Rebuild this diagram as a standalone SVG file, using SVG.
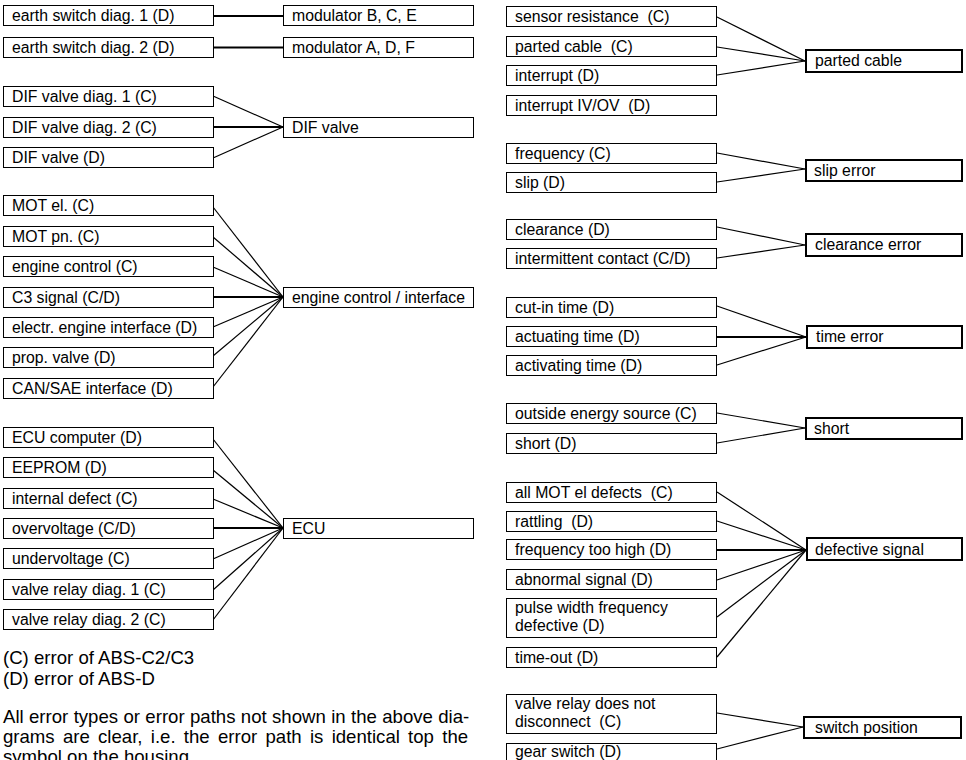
<svg xmlns="http://www.w3.org/2000/svg" width="966" height="760" viewBox="0 0 966 760">
  <style>
    text { font-family: "Liberation Sans", Arial, sans-serif; fill: #000; white-space: pre; }
    .lbl { font-size: 15.8px; }
    .note { font-size: 18.6px; }
    .box { fill: #fff; stroke: #000; stroke-width: 1; }
    .tgt { fill: #fff; stroke: #000; stroke-width: 2; }
    .ln { stroke: #000; stroke-width: 1.2; fill: none; }
    .hz { stroke: #000; stroke-width: 2; fill: none; }
  </style>

  <!-- connectors -->
  <g id="connectors">
    <!-- earth switch -> modulator -->
    <line class="hz" x1="213" y1="16" x2="283" y2="16"/>
    <line class="hz" x1="213" y1="47.5" x2="283" y2="47.5"/>
    <!-- DIF valve -->
    <line class="ln" x1="213" y1="96" x2="283" y2="127"/>
    <line class="hz" x1="213" y1="127" x2="283" y2="127"/>
    <line class="ln" x1="213" y1="158" x2="283" y2="127"/>
    <!-- engine control / interface -->
    <line class="ln" x1="213" y1="207" x2="283" y2="297"/>
    <line class="ln" x1="213" y1="237" x2="283" y2="297"/>
    <line class="ln" x1="213" y1="267" x2="283" y2="297"/>
    <line class="hz" x1="213" y1="297" x2="283" y2="297"/>
    <line class="ln" x1="213" y1="327" x2="283" y2="297"/>
    <line class="ln" x1="213" y1="356" x2="283" y2="297"/>
    <line class="ln" x1="213" y1="387" x2="283" y2="297"/>
    <!-- ECU -->
    <line class="ln" x1="213" y1="439" x2="283" y2="528"/>
    <line class="ln" x1="213" y1="470" x2="283" y2="528"/>
    <line class="ln" x1="213" y1="499" x2="283" y2="528"/>
    <line class="hz" x1="213" y1="528" x2="283" y2="528"/>
    <line class="ln" x1="213" y1="559" x2="283" y2="528"/>
    <line class="ln" x1="213" y1="590" x2="283" y2="528"/>
    <line class="ln" x1="213" y1="620" x2="283" y2="528"/>
    <!-- parted cable -->
    <line class="ln" x1="717" y1="17" x2="805" y2="61"/>
    <line class="ln" x1="717" y1="47" x2="805" y2="61"/>
    <line class="ln" x1="717" y1="75" x2="805" y2="61"/>
    <!-- slip error -->
    <line class="ln" x1="717" y1="153" x2="805" y2="169"/>
    <line class="ln" x1="717" y1="182" x2="805" y2="169"/>
    <!-- clearance error -->
    <line class="ln" x1="717" y1="227" x2="805" y2="245"/>
    <line class="ln" x1="717" y1="258" x2="805" y2="245"/>
    <!-- time error -->
    <line class="ln" x1="717" y1="306" x2="806" y2="337"/>
    <line class="hz" x1="717" y1="337" x2="806" y2="337"/>
    <line class="ln" x1="717" y1="365" x2="806" y2="337"/>
    <!-- short -->
    <line class="ln" x1="717" y1="413" x2="805" y2="428"/>
    <line class="ln" x1="717" y1="443" x2="805" y2="428"/>
    <!-- defective signal -->
    <line class="ln" x1="717" y1="492" x2="806" y2="550"/>
    <line class="ln" x1="717" y1="521" x2="806" y2="550"/>
    <line class="hz" x1="717" y1="550" x2="806" y2="550"/>
    <line class="ln" x1="717" y1="580" x2="806" y2="550"/>
    <line class="ln" x1="717" y1="617" x2="806" y2="550"/>
    <line class="ln" x1="717" y1="657" x2="806" y2="550"/>
    <!-- switch position -->
    <line class="ln" x1="717" y1="713" x2="803" y2="727"/>
    <line class="ln" x1="717" y1="749" x2="803" y2="727"/>
  </g>

  <!-- left column: sources -->
  <g id="earth-switch-1"><rect class="box" x="3.5" y="5.5" width="210" height="20"/><text class="lbl" x="12" y="21">earth switch diag. 1 (D)</text></g>
  <g id="earth-switch-2"><rect class="box" x="3.5" y="37.5" width="210" height="20"/><text class="lbl" x="12" y="53">earth switch diag. 2 (D)</text></g>
  <g id="dif-diag-1"><rect class="box" x="3.5" y="86.5" width="210" height="20"/><text class="lbl" x="12" y="102">DIF valve diag. 1 (C)</text></g>
  <g id="dif-diag-2"><rect class="box" x="3.5" y="117.5" width="210" height="20"/><text class="lbl" x="12" y="133">DIF valve diag. 2 (C)</text></g>
  <g id="dif-d"><rect class="box" x="3.5" y="147.5" width="210" height="20"/><text class="lbl" x="12" y="163">DIF valve (D)</text></g>

  <g id="mot-el"><rect class="box" x="3.5" y="195.5" width="210" height="20"/><text class="lbl" x="12" y="211">MOT el. (C)</text></g>
  <g id="mot-pn"><rect class="box" x="3.5" y="226.5" width="210" height="20"/><text class="lbl" x="12" y="242">MOT pn. (C)</text></g>
  <g id="engine-control-c"><rect class="box" x="3.5" y="256.5" width="210" height="20"/><text class="lbl" x="12" y="272">engine control (C)</text></g>
  <g id="c3-signal"><rect class="box" x="3.5" y="287.5" width="210" height="20"/><text class="lbl" x="12" y="303">C3 signal (C/D)</text></g>
  <g id="electr-engine"><rect class="box" x="3.5" y="317.5" width="210" height="20"/><text class="lbl" x="12" y="333">electr. engine interface (D)</text></g>
  <g id="prop-valve"><rect class="box" x="3.5" y="347.5" width="210" height="20"/><text class="lbl" x="12" y="363">prop. valve (D)</text></g>
  <g id="can-sae"><rect class="box" x="3.5" y="378.5" width="210" height="20"/><text class="lbl" x="12" y="394">CAN/SAE interface (D)</text></g>

  <g id="ecu-computer"><rect class="box" x="3.5" y="427.5" width="210" height="20"/><text class="lbl" x="12" y="443">ECU computer (D)</text></g>
  <g id="eeprom"><rect class="box" x="3.5" y="457.5" width="210" height="20"/><text class="lbl" x="12" y="473">EEPROM (D)</text></g>
  <g id="internal-defect"><rect class="box" x="3.5" y="488.5" width="210" height="20"/><text class="lbl" x="12" y="504">internal defect (C)</text></g>
  <g id="overvoltage"><rect class="box" x="3.5" y="518.5" width="210" height="20"/><text class="lbl" x="12" y="534">overvoltage (C/D)</text></g>
  <g id="undervoltage"><rect class="box" x="3.5" y="548.5" width="210" height="20"/><text class="lbl" x="12" y="564">undervoltage (C)</text></g>
  <g id="valve-relay-1"><rect class="box" x="3.5" y="579.5" width="210" height="20"/><text class="lbl" x="12" y="595">valve relay diag. 1 (C)</text></g>
  <g id="valve-relay-2"><rect class="box" x="3.5" y="609.5" width="210" height="20"/><text class="lbl" x="12" y="625">valve relay diag. 2 (C)</text></g>

  <!-- left column: targets -->
  <g id="modulator-bce"><rect class="box" x="283.5" y="5.5" width="190" height="20"/><text class="lbl" x="292" y="21">modulator B, C, E</text></g>
  <g id="modulator-adf"><rect class="box" x="283.5" y="37.5" width="190" height="20"/><text class="lbl" x="292" y="53">modulator A, D, F</text></g>
  <g id="dif-valve"><rect class="box" x="283.5" y="117.5" width="190" height="20"/><text class="lbl" x="292" y="133">DIF valve</text></g>
  <g id="engine-interface"><rect class="box" x="283.5" y="287.5" width="190" height="20"/><text class="lbl" x="292" y="303">engine control / interface</text></g>
  <g id="ecu"><rect class="box" x="283.5" y="518.5" width="190" height="20"/><text class="lbl" x="292" y="534">ECU</text></g>

  <!-- right column: sources -->
  <g id="sensor-resistance"><rect class="box" x="506.5" y="6.5" width="210" height="20"/><text class="lbl" x="515" y="22" xml:space="preserve">sensor resistance  (C)</text></g>
  <g id="parted-cable-c"><rect class="box" x="506.5" y="36.5" width="210" height="20"/><text class="lbl" x="515" y="52" xml:space="preserve">parted cable  (C)</text></g>
  <g id="interrupt"><rect class="box" x="506.5" y="65.5" width="210" height="20"/><text class="lbl" x="515" y="81">interrupt (D)</text></g>
  <g id="interrupt-ivov"><rect class="box" x="506.5" y="95.5" width="210" height="20"/><text class="lbl" x="515" y="111" xml:space="preserve">interrupt IV/OV  (D)</text></g>

  <g id="frequency"><rect class="box" x="506.5" y="143.5" width="210" height="20"/><text class="lbl" x="515" y="159">frequency (C)</text></g>
  <g id="slip"><rect class="box" x="506.5" y="172.5" width="210" height="20"/><text class="lbl" x="515" y="188">slip (D)</text></g>

  <g id="clearance"><rect class="box" x="506.5" y="219.5" width="210" height="20"/><text class="lbl" x="515" y="235">clearance (D)</text></g>
  <g id="intermittent"><rect class="box" x="506.5" y="248.5" width="210" height="20"/><text class="lbl" x="515" y="264">intermittent contact (C/D)</text></g>

  <g id="cut-in"><rect class="box" x="506.5" y="297.5" width="210" height="20"/><text class="lbl" x="515" y="313">cut-in time (D)</text></g>
  <g id="actuating"><rect class="box" x="506.5" y="326.5" width="210" height="20"/><text class="lbl" x="515" y="342">actuating time (D)</text></g>
  <g id="activating"><rect class="box" x="506.5" y="355.5" width="210" height="20"/><text class="lbl" x="515" y="371">activating time (D)</text></g>

  <g id="outside-energy"><rect class="box" x="506.5" y="403.5" width="210" height="20"/><text class="lbl" x="515" y="419">outside energy source (C)</text></g>
  <g id="short-d"><rect class="box" x="506.5" y="433.5" width="210" height="20"/><text class="lbl" x="515" y="449">short (D)</text></g>

  <g id="mot-el-defects"><rect class="box" x="506.5" y="482.5" width="210" height="20"/><text class="lbl" x="515" y="498" xml:space="preserve">all MOT el defects  (C)</text></g>
  <g id="rattling"><rect class="box" x="506.5" y="511.5" width="210" height="20"/><text class="lbl" x="515" y="527" xml:space="preserve">rattling  (D)</text></g>
  <g id="freq-high"><rect class="box" x="506.5" y="539.5" width="210" height="20"/><text class="lbl" x="515" y="555">frequency too high (D)</text></g>
  <g id="abnormal"><rect class="box" x="506.5" y="569.5" width="210" height="20"/><text class="lbl" x="515" y="585">abnormal signal (D)</text></g>
  <g id="pulse-width"><rect class="box" x="506.5" y="598.5" width="210" height="39"/><text class="lbl" x="515" y="613">pulse width frequency</text><text class="lbl" x="515" y="631">defective (D)</text></g>
  <g id="time-out"><rect class="box" x="506.5" y="647.5" width="210" height="20"/><text class="lbl" x="515" y="663">time-out (D)</text></g>

  <g id="relay-disconnect"><rect class="box" x="506.5" y="694.5" width="210" height="39"/><text class="lbl" x="515" y="709">valve relay does not</text><text class="lbl" x="515" y="727" xml:space="preserve">disconnect  (C)</text></g>
  <g id="gear-switch"><rect class="box" x="506.5" y="743.5" width="210" height="24"/><text class="lbl" x="515" y="757">gear switch (D)</text></g>

  <!-- right column: targets -->
  <g id="parted-cable"><rect class="tgt" x="806" y="50" width="156" height="22"/><text class="lbl" x="815" y="66">parted cable</text></g>
  <g id="slip-error"><rect class="tgt" x="806" y="160" width="156" height="21"/><text class="lbl" x="814" y="176">slip error</text></g>
  <g id="clearance-error"><rect class="tgt" x="806" y="234" width="156" height="22"/><text class="lbl" x="815" y="250">clearance error</text></g>
  <g id="time-error"><rect class="tgt" x="807" y="326" width="155" height="22"/><text class="lbl" x="816" y="342">time error</text></g>
  <g id="short"><rect class="tgt" x="806" y="418" width="156" height="21"/><text class="lbl" x="814" y="434">short</text></g>
  <g id="defective-signal"><rect class="tgt" x="807" y="538" width="155" height="22"/><text class="lbl" x="815" y="555">defective signal</text></g>
  <g id="switch-position"><rect class="tgt" x="804" y="717" width="157" height="21"/><text class="lbl" x="815" y="733">switch position</text></g>

  <!-- legend and note -->
  <g id="legend">
    <text class="note" x="3" y="664">(C) error of ABS-C2/C3</text>
    <text class="note" x="3" y="685">(D) error of ABS-D</text>
  </g>
  <g id="note">
    <text class="note" x="3" y="723" word-spacing="0.2">All error types or error paths not shown in the above dia-</text>
    <text class="note" x="3" y="743" word-spacing="3.1">grams are clear, i.e. the error path is identical top the</text>
    <text class="note" x="3" y="763">symbol on the housing.</text>
  </g>
</svg>
